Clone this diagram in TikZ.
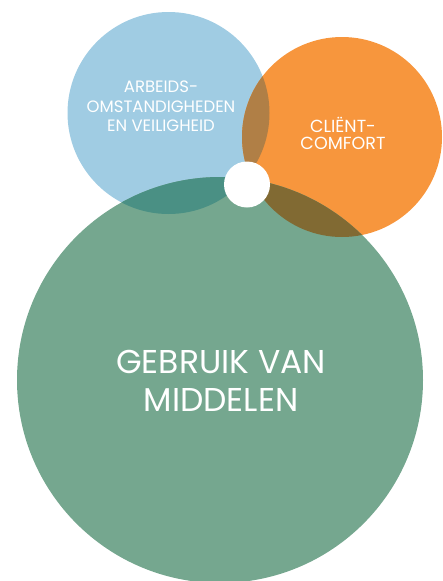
\documentclass[tikz,border=0pt]{standalone}
\usepackage{fontspec}
\setmainfont{Poppins}
\definecolor{cblue}{HTML}{A0CCE3}
\definecolor{corange}{HTML}{F7963D}
\definecolor{cgreen}{HTML}{75A78F}
\definecolor{cbo}{HTML}{B07F46}
\definecolor{cbg}{HTML}{4A9084}
\definecolor{cog}{HTML}{816A33}
\tikzset{
  lbl/.style={text=white, align=center, inner sep=0pt},
}
\begin{document}
\begin{tikzpicture}[x=1pt,y=-1pt]
\useasboundingbox (0,0) rectangle (443,581);
\begin{scope}
\clip (0,0) rectangle (443,581);
\coordinate (B) at (168.5,113);
\coordinate (O) at (342,137);
\coordinate (G) at (220,380);
\coordinate (W) at (247,184.5);
\fill[cblue] (B) circle (101);
\fill[corange] (O) circle (100);
\fill[cgreen] (G) circle (203);
\begin{scope}
  \clip (B) circle (101);
  \fill[cbo] (O) circle (100);
\end{scope}
\begin{scope}
  \clip (G) circle (203);
  \fill[cbg] (B) circle (101);
  \fill[cog] (O) circle (100);
\end{scope}
\fill[white] (W) circle (23);
\end{scope}
\node[lbl, font=\fontsize{16.5}{19.5}\selectfont] (arb) at (161,106.5) {ARBEIDS-\\OMSTANDIGHEDEN\\EN VEILIGHEID};
\node[lbl, font=\fontsize{17.5}{17.5}\selectfont] (cli) at (343,133.5) {CLIËNT-\\COMFORT};
\node[lbl, font=\fontsize{33}{38}\selectfont] (geb) at (221,381) {GEBRUIK VAN\\MIDDELEN};
\end{tikzpicture}
\end{document}
